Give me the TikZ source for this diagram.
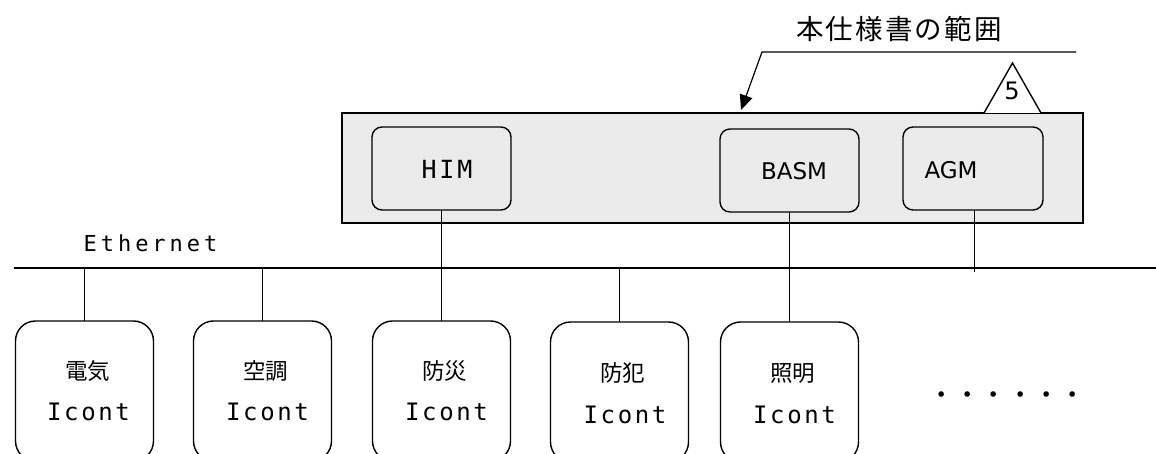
\documentclass[tikz,border=0pt]{standalone}
\usepackage{fontspec}
\usetikzlibrary{arrows.meta}
\newfontfamily\cjk{Noto Sans CJK JP}
\newfontfamily\cjktitle[LetterSpace=8]{Noto Sans CJK JP}
\newfontfamily\monoic[LetterSpace=11]{DejaVu Sans Mono}
\newfontfamily\monohim[LetterSpace=11]{DejaVu Sans Mono}
\newfontfamily\monoeth[LetterSpace=18]{DejaVu Sans Mono}
\newfontfamily\sansdv{DejaVu Sans}
\definecolor{scopegray}{HTML}{EBEBEB}
\tikzset{
  outerbox/.style={draw, line width=1.4pt, fill=scopegray},
  modbox/.style={draw, line width=1.4pt, rounded corners=10pt, minimum width=139pt, minimum height=83pt, inner sep=0pt, outer sep=0pt},
  devbox/.style={draw, line width=1.4pt, rounded corners=20pt, minimum width=138pt, minimum height=140pt, inner sep=0pt, outer sep=0pt, fill=white},
  conn/.style={line width=1.2pt},
  ethline/.style={line width=1.8pt},
  lbl/.style={anchor=base, inner sep=0pt},
  iclbl/.style={lbl, font=\monoic\fontsize{24}{28}\selectfont},
  jplbl/.style={lbl, font=\cjk\fontsize{22.5}{26}\selectfont},
  modlbl/.style={lbl, font=\sansdv\fontsize{23}{27}\selectfont},
}
\begin{document}
\begin{tikzpicture}[x=1pt, y=-1pt]
\useasboundingbox (0,0) rectangle (1156,454);
\clip (0,0) rectangle (1156,454);

% scope box
\node[outerbox, minimum width=741pt, minimum height=110pt, inner sep=0pt, outer sep=0pt] (scope) at (712.5,168) {};
\draw[line width=1.4pt, fill=white] (984,113) -- (1012.5,63) -- (1041,113);
\node[lbl, font=\sansdv\fontsize{24}{28}\selectfont] (rev) at (1012,100) {5};

% title and arrow
\node[lbl, font=\cjktitle\fontsize{27.5}{32}\selectfont] (title) at (899,39.5) {本仕様書の範囲};
\coordinate (arrR) at (1076,52);
\coordinate (arrK) at (762,52);
\coordinate (arrT) at (741,110);
\draw[line width=1.2pt, -{Triangle[length=15pt,width=13pt]}] (arrR) -- (arrK) -- (arrT);

% modules
\node[modbox] (him) at (441.5,168.5) {};
\node[modbox, minimum height=83pt] (basm) at (789.5,170.5) {};
\node[modbox, minimum width=140pt] (agm) at (973,168.5) {};
\node[lbl, font=\monohim\fontsize{25}{29}\selectfont] (himt) at (447,178.3) {HIM};
\node[modlbl] (basmt) at (794,180) {BASM};
\node[modlbl] (agmt) at (951,178.3) {AGM};

% ethernet
\coordinate (ethL) at (14,268);
\coordinate (ethR) at (1156,268);
\draw[ethline] (ethL) -- (ethR);
\node[lbl, font=\monoeth\fontsize{22}{26}\selectfont] (etht) at (150.5,251.7) {Ethernet};

% devices
\node[devbox] (denki) at (84.5,391) {};
\node[devbox] (kucho) at (262.5,391) {};
\node[devbox] (bousai) at (441.5,391) {};
\node[devbox] (bohan) at (619.5,392) {};
\node[devbox] (shomei) at (789.5,392) {};

\node[jplbl] (denkij) at (87.5,379) {電気};
\node[jplbl] (kuchoj) at (265.5,379) {空調};
\node[jplbl] (bousaij) at (444.5,379) {防災};
\node[jplbl] (bohanj) at (622.5,381) {防犯};
\node[jplbl] (shomeij) at (792.5,381) {照明};

\node[iclbl] (denkii) at (88.5,420.7) {Icont};
\node[iclbl] (kuchoi) at (267.5,420.7) {Icont};
\node[iclbl] (bousaii) at (446.5,420.7) {Icont};
\node[iclbl] (bohani) at (625,423) {Icont};
\node[iclbl] (shomeii) at (794.5,423) {Icont};

\node[lbl, font=\cjk\fontsize{26.3}{30}\selectfont] (dots) at (1007,404) {・・・・・・};

% connectors
\draw[conn] (denki.north) -- (denki.north |- ethL);
\draw[conn] (kucho.north) -- (kucho.north |- ethL);
\draw[conn] (bohan.north) -- (bohan.north |- ethL);
\draw[conn] (him.south) -- (bousai.north);
\draw[conn] (basm.south) -- (shomei.north);
\coordinate (agmEnd) at (974.5,272);
\draw[conn] (agm.south -| agmEnd) -- (agmEnd);
\end{tikzpicture}
\end{document}
